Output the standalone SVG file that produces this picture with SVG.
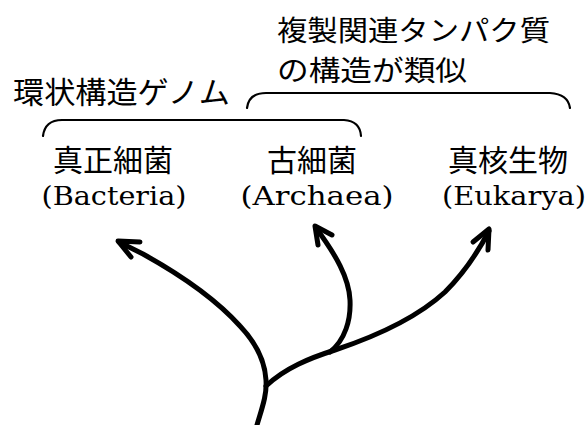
<svg xmlns="http://www.w3.org/2000/svg" width="588" height="425" viewBox="0 0 588 425">
<style>
.jp{font-family:"Noto Sans CJK JP","Noto Sans CJK SC",sans-serif;font-size:30px;fill:#000}
.jp2{font-family:"Noto Sans CJK JP","Noto Sans CJK SC",sans-serif;font-size:28px;fill:#000}
.lat{font-family:"DejaVu Serif","Liberation Serif",serif;font-size:26px;fill:#000}
.brace{fill:none;stroke:#000;stroke-width:2.2;stroke-linecap:round}
.branch{fill:none;stroke:#000;stroke-width:5;stroke-linecap:round;stroke-linejoin:round}
</style>
<rect width="588" height="425" fill="#fff"/>
<g id="label-replication">
<text class="jp2" x="277" y="41" textLength="273" lengthAdjust="spacingAndGlyphs">複製関連タンパク質</text>
<text class="jp2" x="277" y="81" textLength="190" lengthAdjust="spacingAndGlyphs">の構造が類似</text>
<path class="brace" d="M247,108 Q249,93 266,93 L550,93 Q568,94 570,108"/>
</g>
<g id="label-circular">
<text class="jp" x="13" y="103" textLength="217" lengthAdjust="spacingAndGlyphs">環状構造ゲノム</text>
<path class="brace" d="M43,136 Q45,120 62,120 L344,120 Q360,121 361,136"/>
</g>
<g id="bacteria">
<text class="jp" x="113" y="171" text-anchor="middle">真正細菌</text>
<text class="lat" x="114" y="205" text-anchor="middle" textLength="145" lengthAdjust="spacingAndGlyphs">(Bacteria)</text>
</g>
<g id="archaea">
<text class="jp" x="312" y="171" text-anchor="middle">古細菌</text>
<text class="lat" x="317" y="205" text-anchor="middle" textLength="153" lengthAdjust="spacingAndGlyphs">(Archaea)</text>
</g>
<g id="eukarya">
<text class="jp" x="508" y="171" text-anchor="middle">真核生物</text>
<text class="lat" x="514" y="205" text-anchor="middle" textLength="144" lengthAdjust="spacingAndGlyphs">(Eukarya)</text>
</g>
<g id="connectors">
<path class="branch" d="M257,425 C262,408 267,395 266,380 C265,362 258,345 240,326 C222,306 190,280 143,254 L119,242"/>
<path class="branch" d="M140,242 L118,241 L131,257"/>
<path class="branch" d="M266,386 C285,368 310,358 335,350 C380,335 420,315 445,292 C465,272 478,252 489,231"/>
<path class="branch" d="M473,242 L489,229 L488,250"/>
<path class="branch" d="M330,352 C345,340 351,320 350,300 C349,278 336,255 316,228"/>
<path class="branch" d="M332,235 L315,226 L318,245"/>
</g>
</svg>
